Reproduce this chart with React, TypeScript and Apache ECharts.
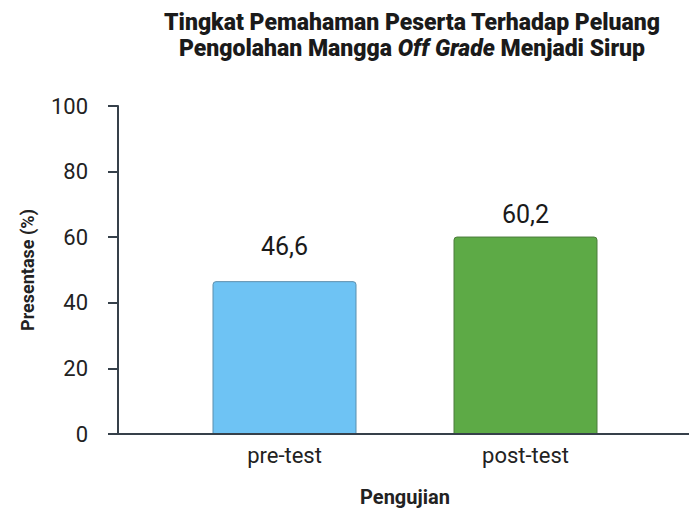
import React, { useEffect, useRef } from "react";
import * as echarts from "echarts";

const categories = ["pre-test", "post-test"];
const values = [46.6, 60.2];
const valueLabels = ["46,6", "60,2"];
const labelGaps = [22, 10];
const barColors = ["#6EC3F4", "#5DAA46"];
const barBorders = ["#5B8FAE", "#4C7D3C"];

export default function App() {
  const ref = useRef<HTMLDivElement>(null);
  useEffect(() => {
    if (!ref.current) return;
    const chart = echarts.init(ref.current, undefined, { renderer: "svg" });
    const font = "Roboto, 'Noto Sans', sans-serif";
    const axisColor = "#36404a";
    chart.setOption({
      animation: false,
      backgroundColor: "#ffffff",
      title: {
        text: "{b|Tingkat Pemahaman Peserta Terhadap Peluang}\n{b|Pengolahan Mangga }{i|Off Grade}{b| Menjadi Sirup}",
        left: 407,
        textAlign: "center",
        top: 4,
        textStyle: {
          rich: {
            b: { fontFamily: font, fontWeight: 900, fontSize: 23, color: "#1a1a1a", lineHeight: 26 },
            i: { fontFamily: font, fontWeight: 900, fontStyle: "italic", fontSize: 23, color: "#1a1a1a", lineHeight: 26 },
          },
        },
      },
      grid: { left: 164, right: 43, top: 106, bottom: 77, outerBoundsMode: "none", containLabel: false },
      xAxis: {
        type: "category",
        data: categories,
        axisLine: { show: false },
        axisTick: { show: false },
        axisLabel: { fontFamily: font, fontSize: 22, color: "#222", margin: 10 },
        name: "Pengujian",
        nameLocation: "middle",
        nameGap: 52,
        nameTextStyle: { fontFamily: font, fontWeight: "bold", fontSize: 20, color: "#222", lineHeight: 22 },
      },
      yAxis: {
        type: "value",
        min: 0,
        max: 100,
        interval: 20,
        offset: 46,
        splitLine: { show: false },
        axisLine: { show: true, lineStyle: { color: axisColor, width: 2 } },
        axisTick: { show: true, length: 10, lineStyle: { color: axisColor, width: 2 } },
        axisLabel: { fontFamily: font, fontSize: 22, color: "#222", margin: 30 },
        name: "Presentase (%)",
        nameLocation: "middle",
        nameGap: 82,
        nameTextStyle: { fontFamily: font, fontWeight: "bold", fontSize: 18, color: "#222" },
      },
      series: [
        {
          type: "bar",
          barWidth: 144,
          data: values.map((v, i) => ({
            value: v,
            itemStyle: {
              color: barColors[i],
              borderColor: barBorders[i],
              borderWidth: 1,
              borderRadius: [3, 3, 0, 0],
            },
            label: {
              show: true,
              position: "top",
              distance: labelGaps[i],
              formatter: valueLabels[i],
              fontFamily: font,
              fontSize: 25,
              color: "#1a1a1a",
            },
          })),
        },
      ],
      graphic: [
        {
          type: "line",
          shape: { x1: 118, y1: 434, x2: 689, y2: 434 },
          style: { stroke: axisColor, lineWidth: 2 },
          z: 10,
        },
      ],
    });
    return () => chart.dispose();
  }, []);
  return <div ref={ref} style={{ width: 689, height: 511, position: "absolute", left: 0, top: 0 }} />;
}
